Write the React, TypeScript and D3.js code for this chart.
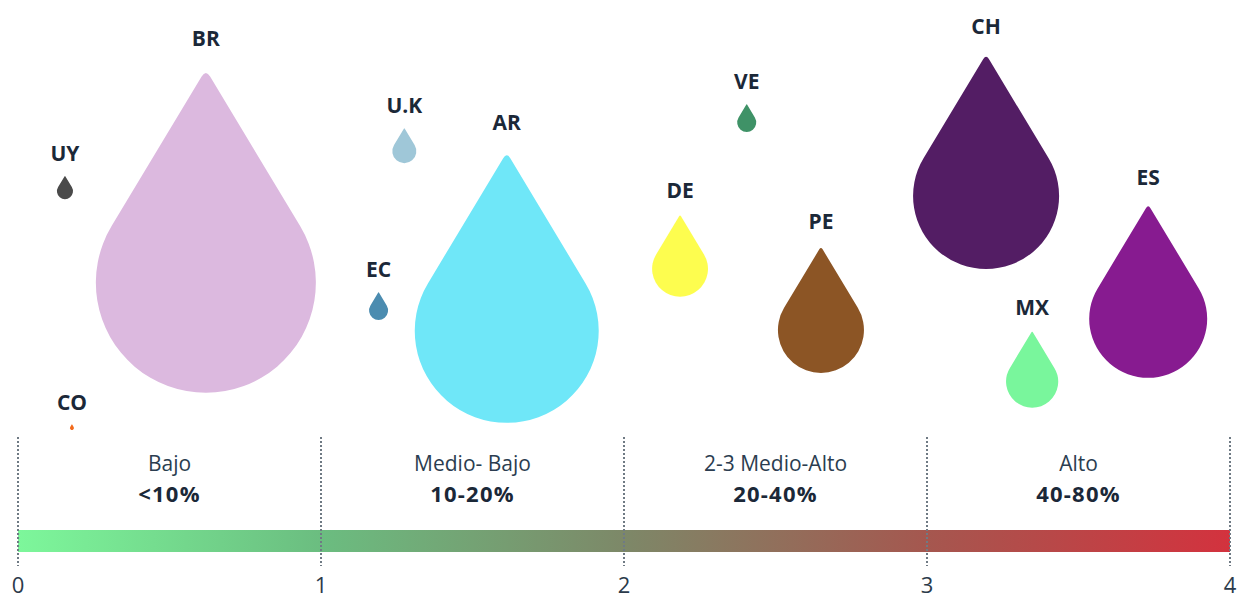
import React from "react";
import * as d3 from "d3";

const countries = ["UY", "CO", "BR", "U.K", "EC", "AR", "DE", "VE", "PE", "CH", "MX", "ES"];
// position on the 0–4 risk scale
const riskValues = [0.155, 0.178, 0.62, 1.275, 1.19, 1.613, 2.185, 2.405, 2.65, 3.195, 3.347, 3.73];
// vertical placement (arbitrary 0–100 units)
const heights = [62.2, 3.0, 39.3, 72.2, 32.4, 27.3, 42.8, 79.4, 27.5, 61.0, 14.6, 30.3];
// bubble sizes (area units)
const sizes = [0.64, 0.04, 121, 1.44, 0.9, 84.6, 7.8, 0.9, 18.5, 53.3, 6.8, 34.8];
const colors = ["#4a4a4a", "#f26a1b", "#dcb9df", "#9fc7d8", "#4b8cb0", "#6fe7f8", "#fdfd4f", "#3f9267", "#8c5525", "#531d64", "#79f69c", "#871b90"];

const bandNames = ["Bajo", "Medio- Bajo", "2-3 Medio-Alto", "Alto"];
const bandRanges = ["<10%", "10-20%", "20-40%", "40-80%"];
const tickValues = [0, 1, 2, 3, 4];
const gradientStops = ["#7df79b", "#6bbd80", "#7d8868", "#a5574f", "#d3323e"];

const W = 1246;
const H = 601;
const FONT = "'Open Sans', 'Noto Sans', sans-serif";

function dropPath(cx: number, cy: number, r: number, k = 1.94): string {
  const cosT = 1 / k;
  const sinT = Math.sqrt(1 - cosT * cosT);
  const tx = cx, ty = cy - k * r;
  const rx = cx + r * sinT, ry = cy - r * cosT;
  const lx = cx - r * sinT, ly = cy - r * cosT;
  const t = 0.045;
  const p1x = tx + t * (rx - tx), p1y = ty + t * (ry - ty);
  const p2x = tx + t * (lx - tx), p2y = ty + t * (ly - ty);
  return `M${p1x},${p1y}L${rx},${ry}A${r},${r} 0 1 1 ${lx},${ly}L${p2x},${p2y}Q${tx},${ty} ${p1x},${p1y}Z`;
}

export default function App() {
  const x = d3.scaleLinear().domain([0, 4]).range([18, 1230]);
  const y = d3.scaleLinear().domain([0, 100]).range([440, 40]);
  const rScale = d3.scaleSqrt().domain([0, 121]).range([0, 110]);
  const k = 1.94;

  return (
    <svg
      width={W}
      height={H}
      style={{ position: "absolute", left: 0, top: 0, background: "#fff", fontFamily: FONT }}
    >
      <defs>
        <linearGradient id="riskGrad" x1="0" x2="1" y1="0" y2="0">
          {gradientStops.map((c, i) => (
            <stop key={i} offset={i / (gradientStops.length - 1)} stopColor={c} />
          ))}
        </linearGradient>
      </defs>

      {/* gradient bar */}
      <rect x={x(0)} y={530} width={x(4) - x(0)} height={22} fill="url(#riskGrad)" />

      {/* dotted separators */}
      {tickValues.map((v) => (
        <line
          key={"d" + v}
          x1={x(v)}
          x2={x(v)}
          y1={437}
          y2={566}
          stroke="#6f7a84"
          strokeWidth={2}
          strokeDasharray="2,2"
        />
      ))}

      {/* tick labels */}
      {tickValues.map((v) => (
        <text key={"t" + v} x={x(v)} y={593} textAnchor="middle" fontSize={22} fill="#2b3a4a">
          {v}
        </text>
      ))}

      {/* band labels */}
      {bandNames.map((b, i) => (
        <g key={"b" + i}>
          <text x={(x(i) + x(i + 1)) / 2} y={471} textAnchor="middle" fontSize={21} fill="#2b3d50">
            {b}
          </text>
          <text
            x={(x(i) + x(i + 1)) / 2}
            y={502}
            textAnchor="middle"
            fontSize={22}
            fontWeight={700}
            letterSpacing={1.2}
            fill="#1b2838"
          >
            {bandRanges[i]}
          </text>
        </g>
      ))}

      {/* drops */}
      {countries.map((c, i) => {
        const cx = x(riskValues[i]);
        const cy = y(heights[i]);
        const r = rScale(sizes[i]);
        const tipY = cy - k * r;
        return (
          <g key={c}>
            <path d={dropPath(cx, cy, r, k)} fill={colors[i]} />
            <text
              x={cx}
              y={tipY - (14 + 0.09 * r)}
              textAnchor="middle"
              fontSize={21}
              fontWeight={700}
              fill="#1b2838"
            >
              {c}
            </text>
          </g>
        );
      })}
    </svg>
  );
}
